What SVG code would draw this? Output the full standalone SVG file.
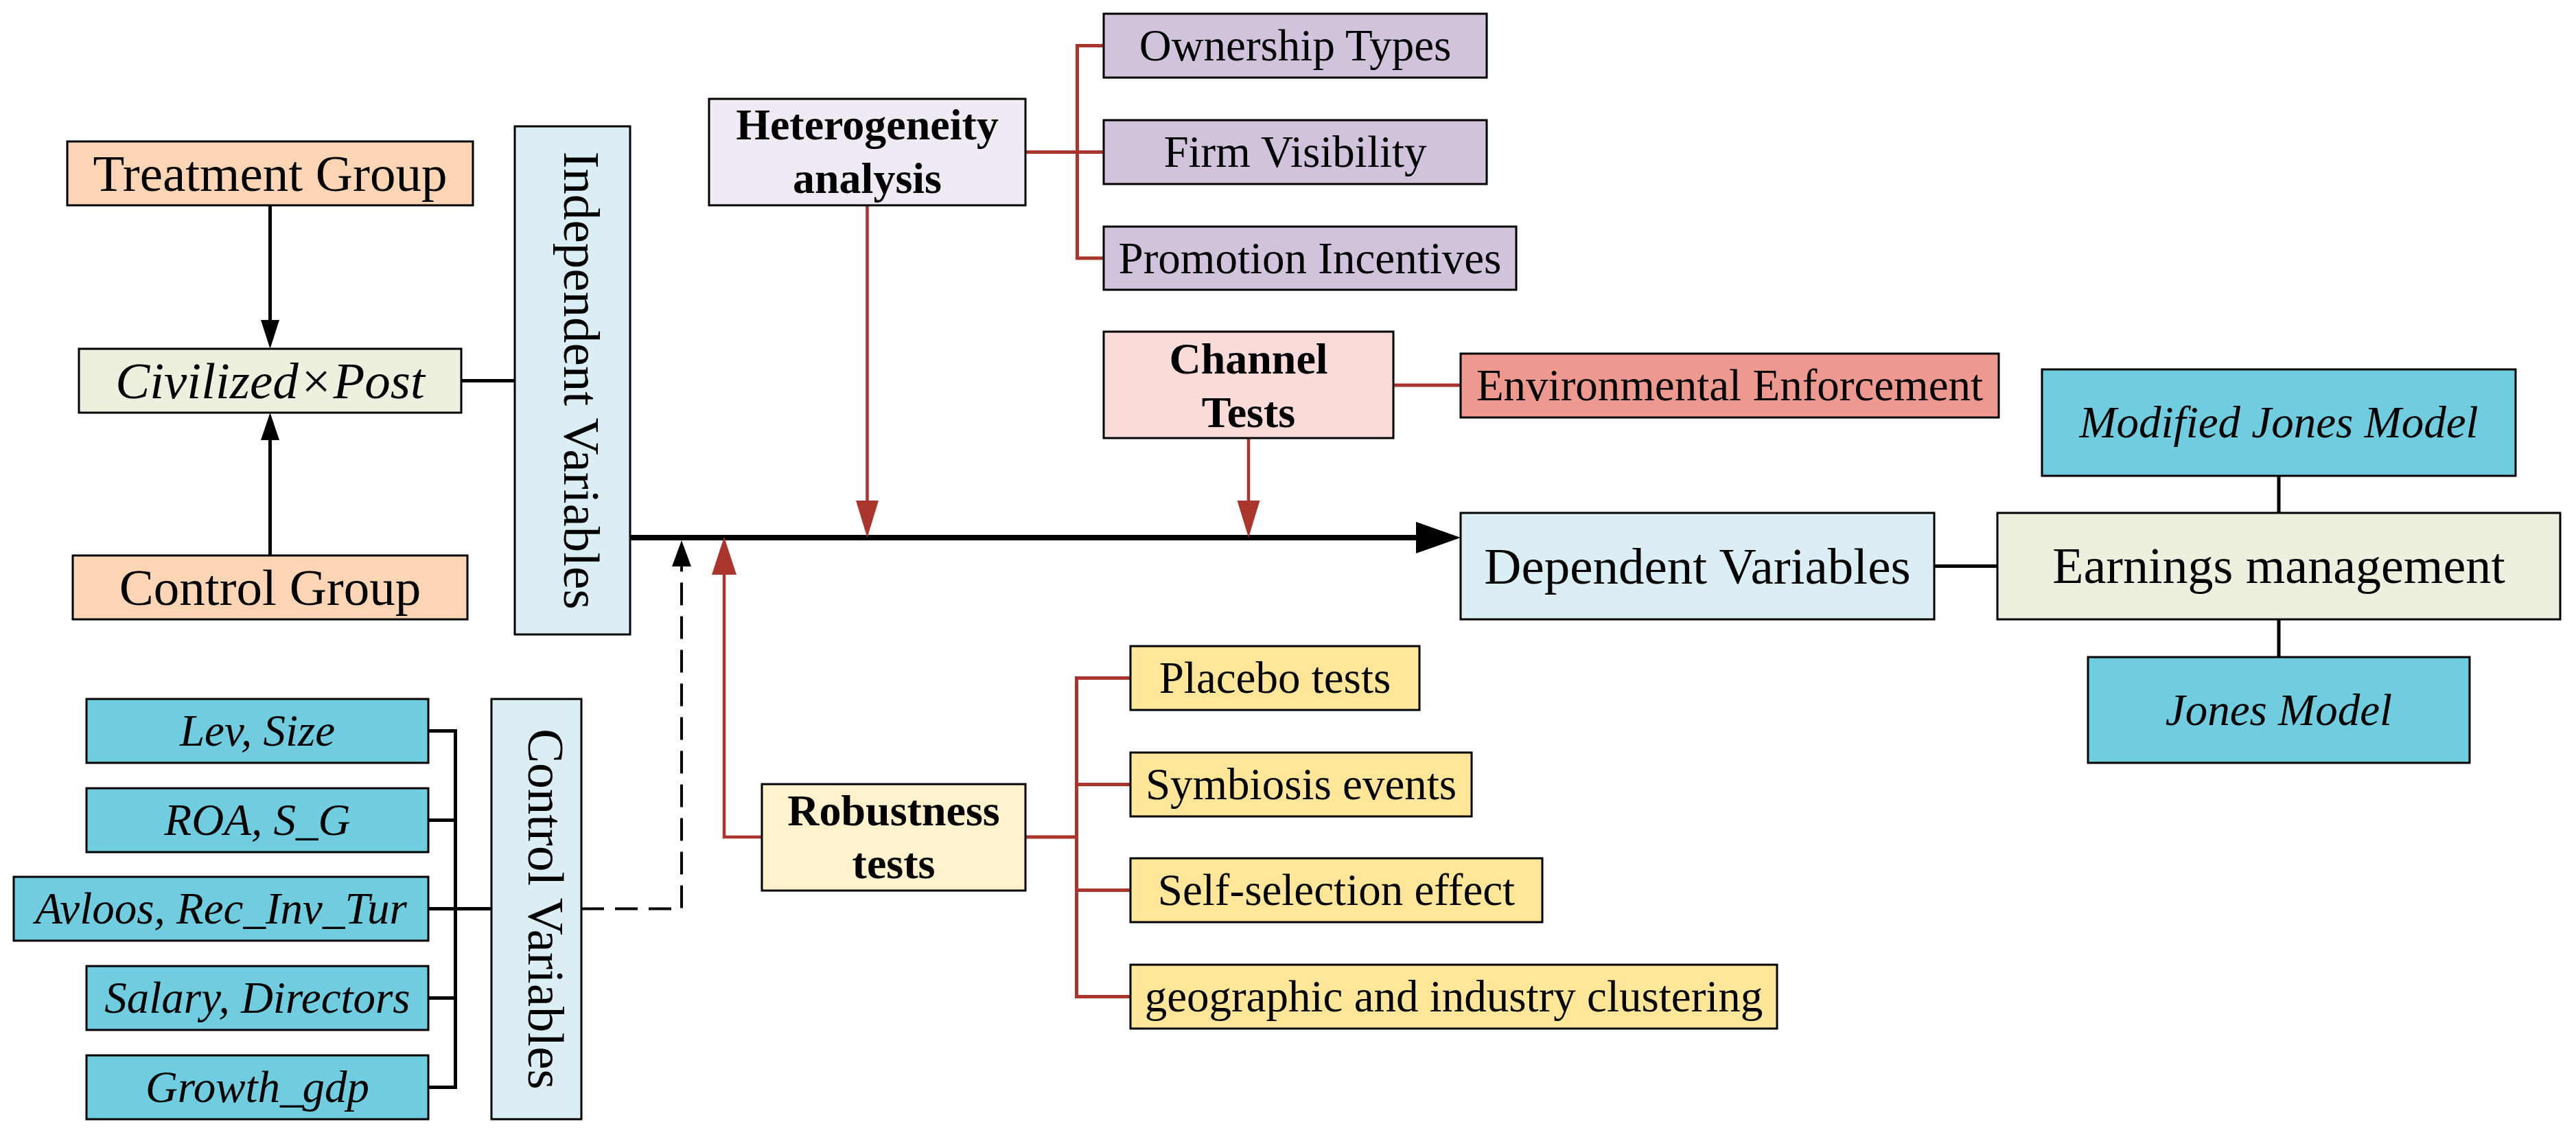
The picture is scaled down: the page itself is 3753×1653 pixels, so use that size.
<svg xmlns="http://www.w3.org/2000/svg" width="3753" height="1653" viewBox="0 0 3753 1653">
<style>
  .box { stroke: #000; stroke-width: 3; }
  .t { font-family: "Liberation Serif", "Times New Roman", serif; fill: #000; text-anchor: middle; }
  .big { font-size: 75px; }
  .sm { font-size: 65px; }
  .b { font-size: 64px; font-weight: bold; }
  .i { font-style: italic; }
  .peach { fill: #FCD5B5; }
  .green { fill: #EBF1DE; }
  .lblue { fill: #DAEEF3; }
  .cyan { fill: #70CDE0; }
  .lav { fill: #EFEAF3; }
  .purple { fill: #D1C3DC; }
  .pink { fill: #F9DBDA; }
  .salmon { fill: #EE998F; }
  .lyel { fill: #FFF2CC; }
  .yel { fill: #FFE699; }
  .k { stroke: #000; stroke-width: 5; fill: none; }
  .kmain { stroke: #000; stroke-width: 8; fill: none; }
  .kdash { stroke: #000; stroke-width: 4; fill: none; stroke-dasharray: 33 16; }
  .r { stroke: #A9352C; stroke-width: 5; fill: none; }
  .ra4 { stroke: #A9352C; stroke-width: 4.5; fill: none; }
  .ka { fill: #000; }
  .ra { fill: #A9352C; }
</style>
<rect width="3753" height="1653" fill="#FFFFFF"/>

<g id="connectors">
  <!-- black -->
  <line class="k" x1="393.5" y1="299" x2="393.5" y2="468"/>
  <polygon class="ka" points="380,466 407,466 393.5,508"/>
  <line class="k" x1="393.5" y1="809" x2="393.5" y2="639"/>
  <polygon class="ka" points="380,641 407,641 393.5,601"/>
  <line class="k" x1="672" y1="554.5" x2="750" y2="554.5"/>
  <path class="k" d="M624,1064.5 H663.5 V1583.5 H624 M624,1194.5 H663.5 M624,1323.5 H716 M624,1453.5 H663.5"/>
  <path class="kdash" d="M847,1323.5 H993 V825"/>
  <polygon class="ka" points="979,825 1007,825 993,787"/>
  <line class="kmain" x1="918" y1="783" x2="2066" y2="783"/>
  <polygon class="ka" points="2063,760 2063,806 2128,783"/>
  <line class="k" x1="2818" y1="824.5" x2="2910" y2="824.5"/>
  <line class="k" x1="3320" y1="693" x2="3320" y2="747"/>
  <line class="k" x1="3320" y1="902" x2="3320" y2="957"/>
  <!-- red -->
  <path class="r" d="M1494,221.5 H1569.5 M1608,66.5 H1569.5 V376 H1608 M1569.5,221.5 H1608"/>
  <line class="ra4" x1="1263.5" y1="299" x2="1263.5" y2="731"/>
  <polygon class="ra" points="1247,729 1280,729 1263.5,783"/>
  <line class="r" x1="2030" y1="561" x2="2128" y2="561"/>
  <line class="ra4" x1="1819" y1="638" x2="1819" y2="731"/>
  <polygon class="ra" points="1802.5,729 1835.5,729 1819,783"/>
  <path class="ra4" d="M1110,1219 H1055 V835"/>
  <polygon class="ra" points="1037,837 1073,837 1055,782"/>
  <path class="r" d="M1494,1219 H1568.5 M1647,987.5 H1568.5 V1451.5 H1647 M1568.5,1142.5 H1647 M1568.5,1296.5 H1647"/>
</g>

<g id="treatment"><rect class="box peach" x="98" y="206" width="591" height="93"/><text class="t big" x="393.5" y="277.5">Treatment Group</text></g>
<g id="civilized"><rect class="box green" x="115" y="508" width="557" height="93"/><text class="t big i" x="393.5" y="579.5">Civilized×Post</text></g>
<g id="control"><rect class="box peach" x="106" y="809" width="575" height="93"/><text class="t big" x="393.5" y="880.5">Control Group</text></g>
<g id="independent"><rect class="box lblue" x="750" y="184" width="168" height="740"/><text class="t big" transform="translate(822,554) rotate(90)">Independent Variables</text></g>

<g id="lev"><rect class="box cyan" x="126" y="1018" width="498" height="93"/><text class="t sm i" x="375" y="1086">Lev, Size</text></g>
<g id="roa"><rect class="box cyan" x="126" y="1148" width="498" height="93"/><text class="t sm i" x="375" y="1216">ROA, S_G</text></g>
<g id="avloos"><rect class="box cyan" x="20" y="1277" width="604" height="93"/><text class="t sm i" x="322" y="1345">Avloos, Rec_Inv_Tur</text></g>
<g id="salary"><rect class="box cyan" x="126" y="1407" width="498" height="93"/><text class="t sm i" x="375" y="1475">Salary, Directors</text></g>
<g id="growth"><rect class="box cyan" x="126" y="1537" width="498" height="93"/><text class="t sm i" x="375" y="1605">Growth_gdp</text></g>
<g id="controlvars"><rect class="box lblue" x="716" y="1018" width="131" height="612"/><text class="t big" transform="translate(770,1324) rotate(90)">Control Variables</text></g>

<g id="heterogeneity"><rect class="box lav" x="1033" y="144" width="461" height="155"/><text class="t b" x="1263.5" y="203">Heterogeneity</text><text class="t b" x="1263.5" y="281">analysis</text></g>
<g id="ownership"><rect class="box purple" x="1608" y="20" width="558" height="93"/><text class="t sm" x="1887" y="88">Ownership Types</text></g>
<g id="visibility"><rect class="box purple" x="1608" y="175" width="558" height="93"/><text class="t sm" x="1887" y="243">Firm Visibility</text></g>
<g id="promotion"><rect class="box purple" x="1608" y="330" width="601" height="92"/><text class="t sm" x="1908.5" y="397.5">Promotion Incentives</text></g>

<g id="channel"><rect class="box pink" x="1608" y="483" width="422" height="155"/><text class="t b" x="1819" y="544">Channel</text><text class="t b" x="1819" y="622">Tests</text></g>
<g id="environmental"><rect class="box salmon" x="2128" y="515" width="784" height="93"/><text class="t sm" x="2520" y="583">Environmental Enforcement</text></g>

<g id="dependent"><rect class="box lblue" x="2128" y="747" width="690" height="155"/><text class="t big" x="2473" y="849.5">Dependent Variables</text></g>
<g id="earnings"><rect class="box green" x="2910" y="747" width="820" height="155"/><text class="t" font-size="74" x="3320" y="848.5">Earnings management</text></g>
<g id="modjones"><rect class="box cyan" x="2975" y="538" width="690" height="155"/><text class="t sm i" x="3320" y="637">Modified Jones Model</text></g>
<g id="jones"><rect class="box cyan" x="3042" y="957" width="556" height="154"/><text class="t sm i" x="3320" y="1055.5">Jones Model</text></g>

<g id="robustness"><rect class="box lyel" x="1110" y="1142" width="384" height="155"/><text class="t b" x="1302" y="1201.5">Robustness</text><text class="t b" x="1302" y="1279">tests</text></g>
<g id="placebo"><rect class="box yel" x="1647" y="941" width="421" height="93"/><text class="t sm" x="1857.5" y="1009">Placebo tests</text></g>
<g id="symbiosis"><rect class="box yel" x="1647" y="1096" width="497" height="93"/><text class="t sm" x="1895.5" y="1164">Symbiosis events</text></g>
<g id="selfselection"><rect class="box yel" x="1647" y="1250" width="600" height="93"/><text class="t sm" x="1947" y="1318">Self-selection effect</text></g>
<g id="geographic"><rect class="box yel" x="1647" y="1405" width="942" height="93"/><text class="t sm" x="2118" y="1473">geographic and industry clustering</text></g>
</svg>
